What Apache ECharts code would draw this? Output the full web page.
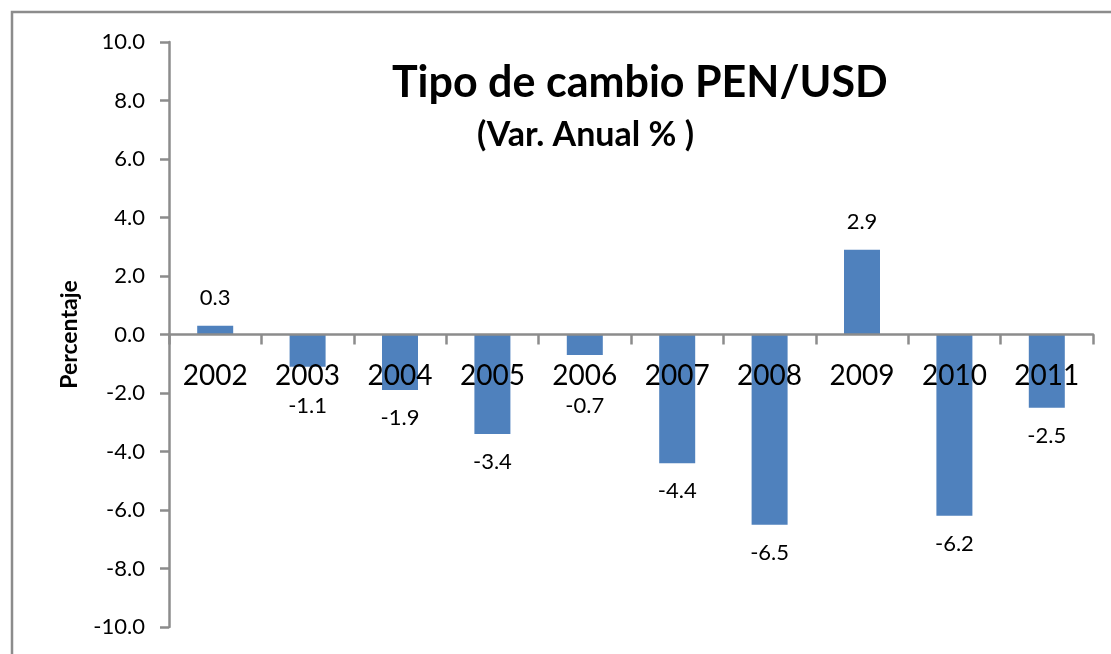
<!DOCTYPE html>
<html>
<head>
<meta charset="utf-8">
<script src="https://cdn.jsdelivr.net/npm/echarts@6/dist/echarts.min.js"></script>
<style>html,body{margin:0;padding:0;background:#fff;}#c{width:1111px;height:654px;}</style>
</head>
<body>
<div id="c"></div>
<script>
var categories = ['2002','2003','2004','2005','2006','2007','2008','2009','2010','2011'];
var values = [0.3, -1.1, -1.9, -3.4, -0.7, -4.4, -6.5, 2.9, -6.2, -2.5];
var yMin = -10, yMax = 10, yStep = 2;
var titleText = 'Tipo de cambio PEN/USD';
var subtitleText = '(Var. Anual % )';
var yName = 'Percentaje';

var FONT = 'Lato, "Open Sans", sans-serif';
var GRID_TOP = 42, GRID_BOTTOM = 27, H = 654;
var plotH = H - GRID_TOP - GRID_BOTTOM;
var pxPerUnit = plotH / (yMax - yMin);
var zeroOffset = pxPerUnit * (0 - yMin); // distance from bottom of grid to zero line
var LABEL_DIST = 17, LABEL_FS = 22;
// negative labels are kept clear of the category labels (as the spreadsheet does)
var minNegLabelDepth = 71; // px below the zero line for label centre

function negLabelShift(v) {
  var natural = -v * pxPerUnit + LABEL_DIST + LABEL_FS / 2;
  return natural < minNegLabelDepth ? minNegLabelDepth - natural : 0;
}

var chart = echarts.init(document.getElementById('c'));
chart.setOption({
  animation: false,
  backgroundColor: '#fff',
  graphic: [{
    type: 'rect', shape: {x: 12, y: 12, width: 1200, height: 700},
    style: {fill: 'none', stroke: '#8c8c8c', lineWidth: 2.5}, z: -10
  }, {
    type: 'text', left: 392, top: 62,
    style: {text: titleText, font: 'bold 43px ' + FONT, fill: '#000'}
  }, {
    type: 'text', left: 477, top: 118,
    style: {text: subtitleText, font: 'bold 34px ' + FONT, fill: '#000'}
  }],
  grid: {left: 169, right: 18, top: GRID_TOP, bottom: GRID_BOTTOM, containLabel: false, outerBoundsMode: 'none'},
  xAxis: {
    type: 'category', data: categories, z: 10,
    offset: -zeroOffset,
    axisLine: {onZero: false, lineStyle: {color: '#8c8c8c', width: 2.5}},
    axisTick: {show: true, length: 10, lineStyle: {color: '#8c8c8c', width: 2.5}},
    axisLabel: {color: '#000', fontSize: 28, fontFamily: FONT, margin: 27, interval: 0}
  },
  yAxis: {
    type: 'value', min: yMin, max: yMax, interval: yStep,
    name: yName, nameLocation: 'middle', nameGap: 88, nameRotate: 90,
    nameTextStyle: {color: '#000', fontSize: 23, fontWeight: 'bold', fontFamily: FONT},
    axisLine: {show: true, lineStyle: {color: '#8c8c8c', width: 2.5}},
    axisTick: {show: true, inside: false, length: 9, lineStyle: {color: '#8c8c8c', width: 2.5}},
    splitLine: {show: false},
    axisLabel: {color: '#000', fontSize: 22, fontFamily: FONT, margin: 24,
      formatter: function (v) { return v.toFixed(1); }}
  },
  series: [{
    type: 'bar', barWidth: 36,
    itemStyle: {color: '#4F81BD'},
    data: values.map(function (v) {
      return {value: v, label: v >= 0 ? {position: 'top'} : {position: 'bottom', offset: [0, negLabelShift(v)]}};
    }),
    label: {show: true, distance: LABEL_DIST, color: '#000', fontSize: LABEL_FS, fontFamily: FONT,
      formatter: function (p) { return p.value.toFixed(1); }}
  }]
});
</script>
</body>
</html>
